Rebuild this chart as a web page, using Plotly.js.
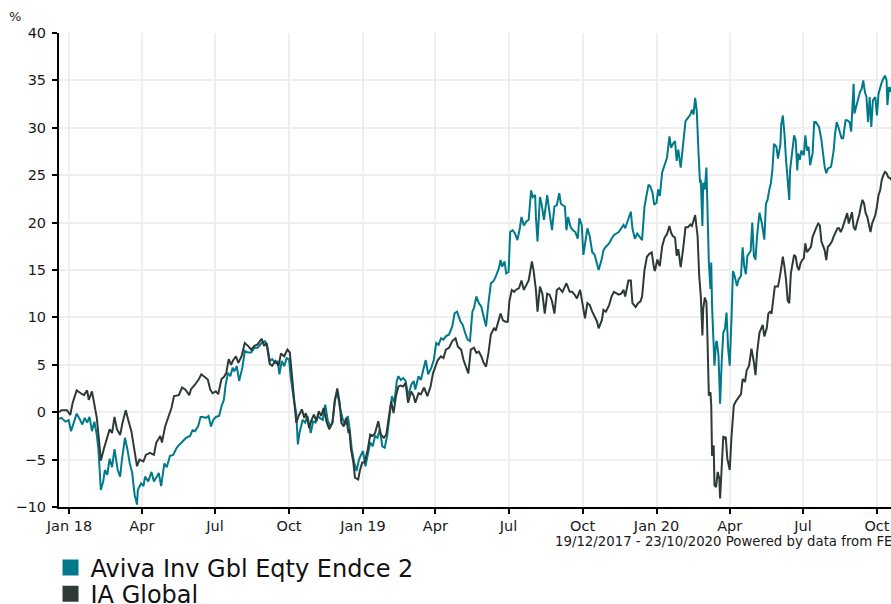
<!DOCTYPE html>
<html>
<head>
<meta charset="utf-8">
<script src="https://cdn.plot.ly/plotly-3.0.1.min.js"></script>
<style>html,body{margin:0;padding:0;background:#fff;}#chart{width:891px;height:604px;}</style>
</head>
<body>
<div id="chart"></div>
<script>
const seriesNames = ["Aviva Inv Gbl Eqty Endce 2", "IA Global"];
const tickDates = ["2018-01-01","2018-04-01","2018-07-01","2018-10-01","2019-01-01","2019-04-01","2019-07-01","2019-10-01","2020-01-01","2020-04-01","2020-07-01","2020-10-01"];
const tickLabels = ["Jan 18","Apr","Jul","Oct","Jan 19","Apr","Jul","Oct","Jan 20","Apr","Jul","Oct"];
const footnote = "19/12/2017 - 23/10/2020 Powered by data from FE";

const avivaDates = [
"2017-12-19","2017-12-22","2017-12-27","2017-12-31","2018-01-03","2018-01-06","2018-01-10","2018-01-13","2018-01-17","2018-01-20","2018-01-23","2018-01-26","2018-01-29","2018-02-01","2018-02-04","2018-02-06","2018-02-08","2018-02-09","2018-02-12","2018-02-14","2018-02-17","2018-02-20","2018-02-23","2018-02-26","2018-03-02","2018-03-05","2018-03-07","2018-03-11","2018-03-14","2018-03-17","2018-03-20","2018-03-23","2018-03-26","2018-03-27","2018-03-31","2018-04-03","2018-04-05","2018-04-09","2018-04-13","2018-04-16","2018-04-19","2018-04-22","2018-04-25","2018-04-29","2018-05-02","2018-05-06","2018-05-10","2018-05-14","2018-05-18","2018-05-22","2018-05-26","2018-05-31","2018-06-03","2018-06-06","2018-06-10","2018-06-13","2018-06-16",
"2018-06-20","2018-06-23","2018-06-26","2018-06-29","2018-07-02","2018-07-06","2018-07-09","2018-07-12","2018-07-14","2018-07-17","2018-07-20","2018-07-23","2018-07-25","2018-07-28","2018-07-31","2018-08-04","2018-08-07","2018-08-11","2018-08-15","2018-08-19","2018-08-23","2018-08-28","2018-09-01","2018-09-04","2018-09-07","2018-09-10","2018-09-14","2018-09-17","2018-09-19","2018-09-22","2018-09-25","2018-09-28","2018-10-01","2018-10-03","2018-10-07","2018-10-10","2018-10-12","2018-10-14","2018-10-18","2018-10-21","2018-10-24","2018-10-28","2018-10-31","2018-11-03","2018-11-06","2018-11-08","2018-11-12","2018-11-15","2018-11-18","2018-11-21","2018-11-24","2018-11-27","2018-11-30","2018-12-03","2018-12-07","2018-12-10","2018-12-13",
"2018-12-15","2018-12-18","2018-12-21","2018-12-24","2018-12-27","2018-12-29","2019-01-01","2019-01-04","2019-01-07","2019-01-10","2019-01-13","2019-01-16","2019-01-19","2019-01-22","2019-01-25","2019-01-28","2019-01-31","2019-02-03","2019-02-06","2019-02-09","2019-02-12","2019-02-14","2019-02-17","2019-02-20","2019-02-23","2019-02-26","2019-03-02","2019-03-05","2019-03-07","2019-03-11","2019-03-14","2019-03-17","2019-03-20","2019-03-23","2019-03-27","2019-03-30","2019-04-02","2019-04-05","2019-04-08","2019-04-11","2019-04-14","2019-04-18","2019-04-22","2019-04-25","2019-04-28","2019-05-02","2019-05-05","2019-05-08","2019-05-11","2019-05-14","2019-05-17","2019-05-19","2019-05-22","2019-05-25","2019-05-28","2019-05-31","2019-06-03","2019-06-06","2019-06-09","2019-06-12",
"2019-06-15","2019-06-19","2019-06-21","2019-06-23","2019-06-26","2019-06-28","2019-07-01","2019-07-03","2019-07-06","2019-07-09","2019-07-12","2019-07-15","2019-07-17","2019-07-20","2019-07-23","2019-07-26","2019-07-29","2019-07-31","2019-08-03","2019-08-04","2019-08-06","2019-08-09","2019-08-11","2019-08-14","2019-08-16","2019-08-18","2019-08-21","2019-08-24","2019-08-27","2019-08-30","2019-09-02","2019-09-04","2019-09-06","2019-09-09","2019-09-11","2019-09-13","2019-09-16","2019-09-19","2019-09-22","2019-09-25","2019-09-27","2019-09-30","2019-10-02","2019-10-04","2019-10-07","2019-10-10","2019-10-13","2019-10-16","2019-10-18","2019-10-21","2019-10-25","2019-10-27","2019-10-30","2019-11-03","2019-11-06","2019-11-09","2019-11-12","2019-11-15","2019-11-18","2019-11-21","2019-11-23","2019-11-27","2019-11-30","2019-12-02","2019-12-05","2019-12-08","2019-12-11","2019-12-14","2019-12-17","2019-12-20",
"2019-12-22","2019-12-24","2019-12-27","2019-12-29","2020-01-01","2020-01-03","2020-01-05","2020-01-08","2020-01-11","2020-01-14","2020-01-17","2020-01-19","2020-01-22","2020-01-24","2020-01-26","2020-01-28","2020-01-31","2020-02-03","2020-02-06","2020-02-09","2020-02-12","2020-02-14","2020-02-16","2020-02-18","2020-02-20","2020-02-22","2020-02-24","2020-02-25","2020-02-27","2020-02-28","2020-03-01","2020-03-03","2020-03-04","2020-03-06","2020-03-08","2020-03-09","2020-03-10","2020-03-12","2020-03-13","2020-03-15","2020-03-16","2020-03-18","2020-03-20","2020-03-22","2020-03-24","2020-03-26","2020-03-28","2020-03-30","2020-04-01","2020-04-03","2020-04-05","2020-04-07","2020-04-10","2020-04-12","2020-04-15","2020-04-17","2020-04-19","2020-04-21","2020-04-23","2020-04-27","2020-04-29","2020-05-01","2020-05-03","2020-05-05","2020-05-08",
"2020-05-11","2020-05-14","2020-05-16","2020-05-18","2020-05-20","2020-05-22","2020-05-24","2020-05-26","2020-05-29","2020-05-31","2020-06-03","2020-06-04","2020-06-06","2020-06-08","2020-06-10","2020-06-12","2020-06-14","2020-06-15","2020-06-18","2020-06-20","2020-06-22","2020-06-24","2020-06-25","2020-06-27","2020-06-29","2020-07-02","2020-07-04","2020-07-06","2020-07-08","2020-07-10","2020-07-13","2020-07-15","2020-07-17","2020-07-19","2020-07-21","2020-07-24","2020-07-26","2020-07-28","2020-07-30","2020-08-01","2020-08-05","2020-08-08","2020-08-10","2020-08-12","2020-08-14","2020-08-16","2020-08-18","2020-08-20","2020-08-23","2020-08-25","2020-08-28","2020-08-30","2020-09-02","2020-09-03","2020-09-05","2020-09-07","2020-09-10","2020-09-12","2020-09-14","2020-09-16","2020-09-18","2020-09-20","2020-09-22","2020-09-24","2020-09-26","2020-09-29","2020-10-01","2020-10-03","2020-10-05","2020-10-07","2020-10-09","2020-10-11","2020-10-13","2020-10-14","2020-10-16","2020-10-18","2020-10-20","2020-10-23"];
const avivaValues = [
-0.7,-0.6,-1.0,-0.85,-2.0,-1.1,-0.15,-0.6,-1.3,-0.6,-1.1,-0.5,-2.0,-1.0,-2.4,-3.9,-6.1,-8.2,-7.3,-6.1,-6.6,-4.9,-5.8,-3.9,-6.1,-6.8,-5.2,-2.7,-3.9,-5.4,-6.4,-8.7,-9.75,-8.2,-7.5,-7.8,-6.8,-7.3,-6.3,-7.3,-6.9,-6.4,-7.8,-5.4,-5.8,-4.6,-4.5,-3.8,-3.4,-3.1,-2.7,-2.5,-1.9,-2.0,-1.5,-0.5,-0.5,
-0.6,-0.4,-1.5,-0.8,-0.5,-0.4,0.6,1.3,2.75,4.15,3.8,4.7,4.3,4.85,3.3,4.7,6.45,6.3,6.3,6.8,6.8,7.3,7.5,7.0,5.4,5.6,5.2,5.4,4.0,5.4,4.85,5.7,5.6,3.8,1.3,-0.1,-3.4,-2.2,-0.8,-1.1,-0.4,-2.2,-0.95,-1.1,-0.4,-0.6,-0.8,0.8,-0.8,-1.5,-1.1,1.3,2.2,0.6,-0.8,-1.3,-0.4,
-1.5,-3.9,-5.3,-6.2,-5.0,-4.6,-4.1,-5.7,-4.3,-3.2,-3.6,-2.5,-2.7,-1.8,-3.6,-3.75,-2.5,-0.1,1.7,1.0,3.3,3.8,3.4,3.6,3.3,1.7,2.9,3.3,2.4,3.8,3.4,4.5,5.5,4.0,4.7,5.5,7.3,7.1,7.8,7.65,8.0,8.2,9.05,10.45,10.6,9.6,9.2,8.35,7.65,7.5,10.6,11.0,12.2,11.5,11.15,10.1,9.05,11.5,13.6,13.8,
14.3,15.2,16.05,15.35,15.9,14.65,14.8,19.0,19.2,18.85,18.15,19.4,20.6,19.7,20.1,20.3,23.4,22.7,22.9,20.6,18.0,22.7,22.0,20.3,21.85,22.9,21.0,19.2,21.7,21.85,23.1,22.0,21.85,21.7,19.2,20.6,19.55,19.2,19.0,18.3,20.45,19.75,16.6,17.6,19.4,18.5,16.9,16.6,16.05,15.0,16.2,17.1,17.45,17.8,18.3,18.7,18.85,19.0,19.4,19.75,19.4,20.45,21.15,19.4,18.3,18.85,18.5,18.15,21.7,22.9,
24.0,23.85,23.15,21.9,22.1,23.5,22.8,25.3,26.1,26.85,29.1,27.9,28.4,28.6,26.5,27.7,25.8,28.4,30.7,31.05,31.4,31.9,31.4,33.15,31.75,27.7,24.2,24.55,19.65,24.2,23.5,25.8,21.75,15.8,13.0,15.8,11.2,7.0,4.9,7.35,7.5,6.0,0.9,5.3,8.4,8.8,10.5,6.7,4.9,9.5,14.9,14.4,13.3,14.0,14.4,17.4,15.4,14.55,16.5,17.0,20.0,16.5,16.1,18.6,21.05,
19.9,18.2,22.0,22.4,23.4,24.1,25.5,28.3,28.0,26.75,28.3,30.3,31.3,29.4,26.6,24.1,22.4,25.5,28.0,29.2,28.7,25.5,27.3,26.6,27.6,27.1,29.2,27.6,28.0,26.05,27.3,30.6,30.6,30.3,30.1,28.7,27.1,25.9,25.2,25.7,25.9,27.45,29.4,30.6,30.1,29.6,28.9,28.9,30.8,30.8,30.6,29.6,34.65,31.5,32.2,32.9,33.8,34.1,35.0,33.8,33.25,30.6,33.25,30.1,32.9,33.25,31.3,33.6,34.3,34.8,35.2,35.5,35.0,32.4,34.3,33.8,34.6,34.4];

const globalDates = [
"2017-12-19","2017-12-22","2017-12-29","2018-01-02","2018-01-05","2018-01-10","2018-01-15","2018-01-19","2018-01-23","2018-01-25","2018-01-29","2018-01-31","2018-02-04","2018-02-07","2018-02-09","2018-02-13","2018-02-16","2018-02-20","2018-02-23","2018-02-26","2018-03-01","2018-03-05","2018-03-08","2018-03-12","2018-03-15","2018-03-19","2018-03-22","2018-03-26","2018-03-29","2018-04-03","2018-04-06","2018-04-11","2018-04-16","2018-04-19","2018-04-24","2018-04-26","2018-04-30","2018-05-04","2018-05-08","2018-05-11","2018-05-17","2018-05-21","2018-05-25","2018-05-30","2018-06-01","2018-06-06","2018-06-11","2018-06-14",
"2018-06-18","2018-06-22","2018-06-25","2018-06-28","2018-07-02","2018-07-05","2018-07-09","2018-07-12","2018-07-15","2018-07-18","2018-07-21","2018-07-23","2018-07-27","2018-07-30","2018-08-03","2018-08-07","2018-08-11","2018-08-15","2018-08-19","2018-08-23","2018-08-28","2018-08-31","2018-09-03","2018-09-07","2018-09-10","2018-09-14","2018-09-18","2018-09-21","2018-09-25","2018-09-29","2018-10-02","2018-10-05","2018-10-08","2018-10-10","2018-10-13","2018-10-17","2018-10-20","2018-10-22","2018-10-26","2018-10-29","2018-11-01","2018-11-04","2018-11-07","2018-11-10","2018-11-13","2018-11-17","2018-11-20","2018-11-24","2018-11-27","2018-11-30","2018-12-03","2018-12-05","2018-12-08","2018-12-11","2018-12-14",
"2018-12-15","2018-12-17","2018-12-20","2018-12-22","2018-12-26","2018-12-28","2018-12-31","2019-01-03","2019-01-07","2019-01-10","2019-01-13","2019-01-16","2019-01-20","2019-01-23","2019-01-27","2019-01-30","2019-02-02","2019-02-05","2019-02-08","2019-02-11","2019-02-14","2019-02-17","2019-02-20","2019-02-23","2019-02-26","2019-03-02","2019-03-05","2019-03-07","2019-03-11","2019-03-14","2019-03-18","2019-03-22","2019-03-26","2019-03-29","2019-04-01","2019-04-04","2019-04-08","2019-04-11","2019-04-14","2019-04-18","2019-04-22","2019-04-26","2019-04-29","2019-05-03","2019-05-06","2019-05-09","2019-05-12","2019-05-15","2019-05-19","2019-05-22","2019-05-25","2019-05-28","2019-05-31","2019-06-03","2019-06-06","2019-06-09","2019-06-13",
"2019-06-15","2019-06-18","2019-06-21","2019-06-24","2019-06-27","2019-06-30","2019-07-02","2019-07-05","2019-07-08","2019-07-10","2019-07-14","2019-07-17","2019-07-20","2019-07-23","2019-07-26","2019-07-30","2019-08-01","2019-08-04","2019-08-06","2019-08-09","2019-08-12","2019-08-15","2019-08-18","2019-08-21","2019-08-24","2019-08-27","2019-08-30","2019-09-02","2019-09-06","2019-09-09","2019-09-11","2019-09-15","2019-09-18","2019-09-21","2019-09-24","2019-09-28","2019-10-01","2019-10-04","2019-10-07","2019-10-10","2019-10-13","2019-10-16","2019-10-19","2019-10-21","2019-10-25","2019-10-27","2019-10-30","2019-11-03","2019-11-06","2019-11-09","2019-11-12","2019-11-15","2019-11-18","2019-11-21","2019-11-23","2019-11-27","2019-11-30","2019-12-02","2019-12-06","2019-12-09","2019-12-12","2019-12-14","2019-12-17","2019-12-20",
"2019-12-23","2019-12-26","2019-12-29","2019-12-30","2020-01-02","2020-01-05","2020-01-08","2020-01-11","2020-01-14","2020-01-17","2020-01-19","2020-01-21","2020-01-24","2020-01-26","2020-01-28","2020-01-31","2020-02-03","2020-02-06","2020-02-09","2020-02-12","2020-02-14","2020-02-16","2020-02-18","2020-02-20","2020-02-21","2020-02-23","2020-02-25","2020-02-27","2020-02-28","2020-03-01","2020-03-03","2020-03-04","2020-03-06","2020-03-08","2020-03-09","2020-03-10","2020-03-12","2020-03-13","2020-03-15","2020-03-17","2020-03-19","2020-03-20","2020-03-22","2020-03-24","2020-03-25","2020-03-27","2020-03-29","2020-04-01","2020-04-03","2020-04-05","2020-04-06","2020-04-09","2020-04-12","2020-04-15","2020-04-17","2020-04-20","2020-04-22","2020-04-25","2020-04-28","2020-05-01","2020-05-03","2020-05-05","2020-05-08","2020-05-12","2020-05-14",
"2020-05-17","2020-05-19","2020-05-21","2020-05-23","2020-05-25","2020-05-27","2020-05-29","2020-05-31","2020-06-03","2020-06-04","2020-06-06","2020-06-08","2020-06-10","2020-06-12","2020-06-14","2020-06-16","2020-06-18","2020-06-20","2020-06-22","2020-06-24","2020-06-26","2020-06-28","2020-06-30","2020-07-02","2020-07-04","2020-07-06","2020-07-08","2020-07-11","2020-07-13","2020-07-15","2020-07-18","2020-07-20","2020-07-22","2020-07-24","2020-07-26","2020-07-28","2020-07-30","2020-08-01","2020-08-03","2020-08-06","2020-08-08","2020-08-10","2020-08-13","2020-08-15","2020-08-17","2020-08-19","2020-08-21","2020-08-23","2020-08-25","2020-08-27","2020-08-29","2020-08-31","2020-09-02","2020-09-04","2020-09-07","2020-09-09","2020-09-11","2020-09-13","2020-09-15","2020-09-17","2020-09-19","2020-09-21","2020-09-23","2020-09-25","2020-09-27","2020-09-29","2020-10-01","2020-10-03","2020-10-05","2020-10-07","2020-10-09","2020-10-11","2020-10-13","2020-10-15","2020-10-18","2020-10-20","2020-10-23"];
const globalValues = [
0.0,0.2,0.2,-0.3,1.0,2.3,2.0,1.8,2.3,1.3,2.2,1.2,-0.6,-3.2,-5.1,-3.8,-2.9,-1.8,-2.2,-0.5,-1.8,-2.4,-1.1,0.2,-0.8,-2.0,-3.6,-5.7,-5.0,-5.2,-4.5,-4.3,-4.5,-3.2,-2.5,-3.2,-1.5,-0.5,0.5,1.7,1.8,2.6,2.4,1.8,2.4,2.9,3.5,4.0,
3.7,3.45,2.4,2.0,2.2,1.9,3.5,3.7,4.15,5.6,5.0,5.4,5.9,5.2,5.9,7.3,7.0,6.6,7.0,7.15,7.75,7.0,7.3,5.1,4.9,5.4,4.9,6.2,5.9,6.6,6.3,3.8,1.3,-1.1,-0.4,0.3,-0.6,-0.1,-1.65,-0.8,-0.25,-0.95,0.1,-0.4,0.45,-1.1,-1.8,-1.1,1.2,2.5,1.0,-1.1,-1.5,-0.6,-2.2,
-1.8,-3.9,-5.3,-6.9,-7.1,-6.2,-5.3,-5.3,-3.9,-2.35,-2.5,-2.2,-0.95,-2.35,-2.7,-2.35,-0.4,1.15,-0.1,1.7,2.7,2.8,2.7,3.1,1.0,2.2,1.7,1.0,2.0,1.9,2.6,1.7,2.7,4.1,4.8,5.5,5.9,5.7,6.6,6.8,7.5,7.8,6.9,6.6,5.5,4.7,4.1,6.6,6.8,6.25,6.4,5.9,5.2,4.8,6.25,8.2,8.9,
8.6,9.4,10.4,9.7,9.55,9.55,11.7,12.9,12.7,12.9,13.1,13.9,12.9,13.4,13.9,15.9,15.0,12.9,10.6,13.25,12.5,10.4,12.5,12.4,11.7,10.4,12.9,13.1,12.7,13.25,13.6,12.7,12.7,12.4,12.0,12.9,11.5,9.9,11.5,11.3,10.6,10.1,9.55,8.85,9.7,10.8,10.6,11.3,12.2,12.7,12.5,12.4,12.5,12.9,12.2,13.9,13.9,11.5,11.1,11.5,11.7,12.2,15.0,16.4,
16.7,16.85,15.1,14.9,16.1,15.4,17.5,18.4,18.8,19.65,18.95,18.6,18.4,16.5,17.2,15.3,17.2,19.5,19.5,19.8,19.65,20.2,20.8,19.3,18.6,14.4,12.3,8.1,10.9,12.1,11.6,8.8,1.75,2.1,0.7,-4.6,-3.5,-7.7,-7.9,-6.3,-7.0,-9.1,-6.3,-2.5,-2.8,-2.6,-4.9,-6.1,-2.8,0.35,0.7,1.2,1.6,1.9,3.5,3.2,4.4,4.9,6.7,5.3,3.9,6.3,8.4,9.2,8.0,
8.85,10.4,10.6,10.4,12.2,13.25,13.25,13.25,14.65,15.35,16.4,15.35,13.95,11.8,11.5,14.65,15.7,16.6,16.4,15.35,15.0,15.7,16.05,16.2,17.8,16.9,17.1,17.45,18.5,19.0,19.55,19.9,19.7,18.0,17.6,17.1,16.05,17.45,17.6,18.0,18.5,18.85,19.4,19.4,19.0,19.4,19.9,20.6,21.0,19.9,20.6,21.1,19.55,19.2,20.25,20.8,21.7,22.4,22.0,21.0,20.6,19.9,19.0,19.9,20.4,20.8,21.7,22.9,23.4,24.5,25.0,25.35,25.2,24.8,24.65,24.4,24.3];

const colors = ["#007a8b", "#2e3a37"];
const FONT = "DejaVu Sans, Verdana, sans-serif";

const traces = [
  {x: avivaDates, y: avivaValues, type: "scatter", mode: "lines", line: {color: colors[0], width: 2}, showlegend: false, hoverinfo: "skip"},
  {x: globalDates, y: globalValues, type: "scatter", mode: "lines", line: {color: colors[1], width: 2}, showlegend: false, hoverinfo: "skip"},
  {x: [null], y: [null], type: "scatter", mode: "markers", name: seriesNames[0], marker: {symbol: "square", size: 16, color: colors[0]}, legend: "legend"},
  {x: [null], y: [null], type: "scatter", mode: "markers", name: seriesNames[1], marker: {symbol: "square", size: 16, color: colors[1]}, legend: "legend2"}
];

const legendCommon = {font: {family: FONT, size: 24, color: "#111"}, bgcolor: "rgba(0,0,0,0)", itemsizing: "trace", xref: "container", yref: "container", xanchor: "left", yanchor: "middle", x: 0.0567, tracegroupgap: 0};

const layout = {
  width: 891, height: 604,
  margin: {l: 59, r: 0, t: 33, b: 97, autoexpand: false},
  paper_bgcolor: "#fff", plot_bgcolor: "#fff",
  font: {family: FONT, size: 14.5, color: "#1a1a1a"},
  xaxis: {
    type: "date", range: ["2017-12-19", "2020-10-18 12:00"],
    tickmode: "array", tickvals: tickDates, ticktext: tickLabels,
    ticks: "outside", ticklen: 5, tickwidth: 2, tickcolor: "#000",
    showline: true, linecolor: "#000", linewidth: 2,
    showgrid: true, gridcolor: "#efefef", gridwidth: 2,
    zeroline: false, tickfont: {family: FONT, size: 14.5, color: "#1a1a1a"}, fixedrange: true
  },
  yaxis: {
    range: [-10, 40], tick0: 0, dtick: 5,
    ticks: "outside", ticklen: 5, tickwidth: 2, tickcolor: "#000",
    showline: true, linecolor: "#000", linewidth: 2, ticklabelstandoff: 3,
    showgrid: true, gridcolor: "#efefef", gridwidth: 2,
    zeroline: false, tickfont: {family: FONT, size: 14.5, color: "#1a1a1a"}, fixedrange: true
  },
  legend: Object.assign({}, legendCommon, {y: 0.0596}),
  legend2: Object.assign({}, legendCommon, {y: 0.0165}),
  showlegend: true,
  hovermode: false,
  annotations: [
    {text: "%", xref: "paper", yref: "paper", x: -0.053, y: 1.034, xanchor: "center", yanchor: "middle", showarrow: false, font: {family: FONT, size: 13, color: "#1a1a1a"}},
    {text: footnote, xref: "paper", yref: "paper", x: 1.0036, y: -0.072, xanchor: "right", yanchor: "middle", showarrow: false, font: {family: FONT, size: 13.3, color: "#1a1a1a"}}
  ]
};

Plotly.newPlot("chart", traces, layout, {displayModeBar: false, staticPlot: true});
</script>
</body>
</html>
